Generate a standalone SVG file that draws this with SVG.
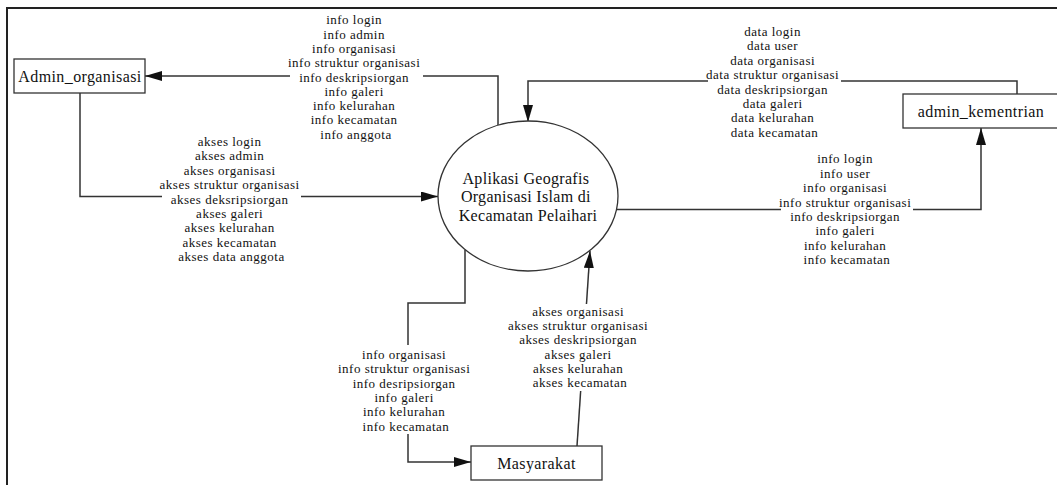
<svg xmlns="http://www.w3.org/2000/svg" width="1057" height="485" viewBox="0 0 1057 485">
  <defs>
    <marker id="arr" markerUnits="userSpaceOnUse" markerWidth="18" markerHeight="12" refX="17" refY="5" orient="auto">
      <path d="M0,0 L17,5 L0,10 Z" fill="#111"/>
    </marker>
    <style>
      .frame { stroke: #222; stroke-width: 2; fill: none; }
      .box { fill: #fff; stroke: #333; stroke-width: 1.3; }
      .node-text { font-family: "Liberation Serif", "Times New Roman", serif; font-size: 16px; letter-spacing: 0.4px; fill: #111; text-anchor: middle; }
      .conn { fill: none; stroke: #333; stroke-width: 1.5; marker-end: url(#arr); }
      .lbl-bg { fill: #fff; }
      .lbl { font-family: "Liberation Serif", "Times New Roman", serif; font-size: 13px; letter-spacing: 0.5px; fill: #111; text-anchor: middle; }
    </style>
  </defs>
  <rect width="1057" height="485" fill="#fff"/>
  <path class="frame" d="M7,485 V8 H1057"/>

  <g id="connectors">
    <path class="conn" d="M498,125 V76 H145"/>
    <path class="conn" d="M80,93 V196.5 H438"/>
    <path class="conn" d="M1017,94 V81 H528 V122"/>
    <path class="conn" d="M617,209.5 H981 V128"/>
    <path class="conn" d="M465,250 V303 H408 V462 H471"/>
    <path class="conn" d="M577,446 L590,251"/>
  </g>

  <g id="labels">
    <g id="lbl-info-admin">
      <rect class="lbl-bg" x="290" y="13" width="133" height="128"/>
      <text class="lbl" x="356">
        <tspan x="356" y="24.3">info login</tspan>
        <tspan x="356" y="38.6">info admin</tspan>
        <tspan x="356" y="52.9">info organisasi</tspan>
        <tspan x="356" y="67.2">info struktur organisasi</tspan>
        <tspan x="356" y="81.5">info deskripsiorgan</tspan>
        <tspan x="356" y="95.8">info galeri</tspan>
        <tspan x="356" y="110.1">info kelurahan</tspan>
        <tspan x="356" y="124.4">info kecamatan</tspan>
        <tspan x="356" y="138.7">info anggota</tspan>
      </text>
    </g>
    <g id="lbl-akses-admin">
      <rect class="lbl-bg" x="162" y="134" width="139" height="130"/>
      <text class="lbl">
        <tspan x="231.5" y="146">akses login</tspan>
        <tspan x="231.5" y="160.4">akses admin</tspan>
        <tspan x="231.5" y="174.8">akses organisasi</tspan>
        <tspan x="231.5" y="189.2">akses struktur organisasi</tspan>
        <tspan x="231.5" y="203.6">akses deksripsiorgan</tspan>
        <tspan x="231.5" y="218">akses galeri</tspan>
        <tspan x="231.5" y="232.4">akses kelurahan</tspan>
        <tspan x="231.5" y="246.8">akses kecamatan</tspan>
        <tspan x="231.5" y="261.2">akses data anggota</tspan>
      </text>
    </g>
    <g id="lbl-data">
      <rect class="lbl-bg" x="708" y="24" width="133" height="116"/>
      <text class="lbl">
        <tspan x="774.5" y="36">data login</tspan>
        <tspan x="774.5" y="50.4">data user</tspan>
        <tspan x="774.5" y="64.8">data organisasi</tspan>
        <tspan x="774.5" y="79.2">data struktur organisasi</tspan>
        <tspan x="774.5" y="93.6">data deskripsiorgan</tspan>
        <tspan x="774.5" y="108">data galeri</tspan>
        <tspan x="774.5" y="122.4">data kelurahan</tspan>
        <tspan x="774.5" y="136.8">data kecamatan</tspan>
      </text>
    </g>
    <g id="lbl-info-kementrian">
      <rect class="lbl-bg" x="781" y="151" width="132" height="116"/>
      <text class="lbl">
        <tspan x="847" y="163.3">info login</tspan>
        <tspan x="847" y="177.7">info user</tspan>
        <tspan x="847" y="192.1">info organisasi</tspan>
        <tspan x="847" y="206.5">info struktur organisasi</tspan>
        <tspan x="847" y="220.9">info deskripsiorgan</tspan>
        <tspan x="847" y="235.3">info galeri</tspan>
        <tspan x="847" y="249.7">info kelurahan</tspan>
        <tspan x="847" y="264.1">info kecamatan</tspan>
      </text>
    </g>
    <g id="lbl-info-masyarakat">
      <rect class="lbl-bg" x="340" y="345" width="133" height="89"/>
      <text class="lbl">
        <tspan x="406" y="359">info organisasi</tspan>
        <tspan x="406" y="373.3">info struktur organisasi</tspan>
        <tspan x="406" y="387.6">info desripsiorgan</tspan>
        <tspan x="406" y="401.9">info galeri</tspan>
        <tspan x="406" y="416.2">info kelurahan</tspan>
        <tspan x="406" y="430.5">info kecamatan</tspan>
      </text>
    </g>
    <g id="lbl-akses-masyarakat">
      <rect class="lbl-bg" x="511" y="304" width="139" height="87"/>
      <text class="lbl">
        <tspan x="580" y="315.7">akses organisasi</tspan>
        <tspan x="580" y="330">akses struktur organisasi</tspan>
        <tspan x="580" y="344.3">akses deskripsiorgan</tspan>
        <tspan x="580" y="358.6">akses galeri</tspan>
        <tspan x="580" y="372.9">akses kelurahan</tspan>
        <tspan x="580" y="387.2">akses kecamatan</tspan>
      </text>
    </g>
  </g>

  <g id="process">
    <ellipse class="box" cx="528" cy="196" rx="90" ry="75"/>
    <text class="node-text" style="letter-spacing:0.3px">
      <tspan x="528" y="183.5">Aplikasi Geografis</tspan>
      <tspan x="528" y="202">Organisasi Islam di</tspan>
      <tspan x="528" y="220.5">Kecamatan Pelaihari</tspan>
    </text>
  </g>
  <g id="admin-organisasi">
    <rect class="box" x="14" y="59" width="131" height="34"/>
    <text class="node-text" x="80" y="81.5">Admin_organisasi</text>
  </g>
  <g id="admin-kementrian">
    <rect class="box" x="903" y="94" width="160" height="34"/>
    <text class="node-text" x="981" y="117">admin_kementrian</text>
  </g>
  <g id="masyarakat">
    <rect class="box" x="471" y="446" width="131" height="34"/>
    <text class="node-text" x="536.5" y="468.5">Masyarakat</text>
  </g>
</svg>
